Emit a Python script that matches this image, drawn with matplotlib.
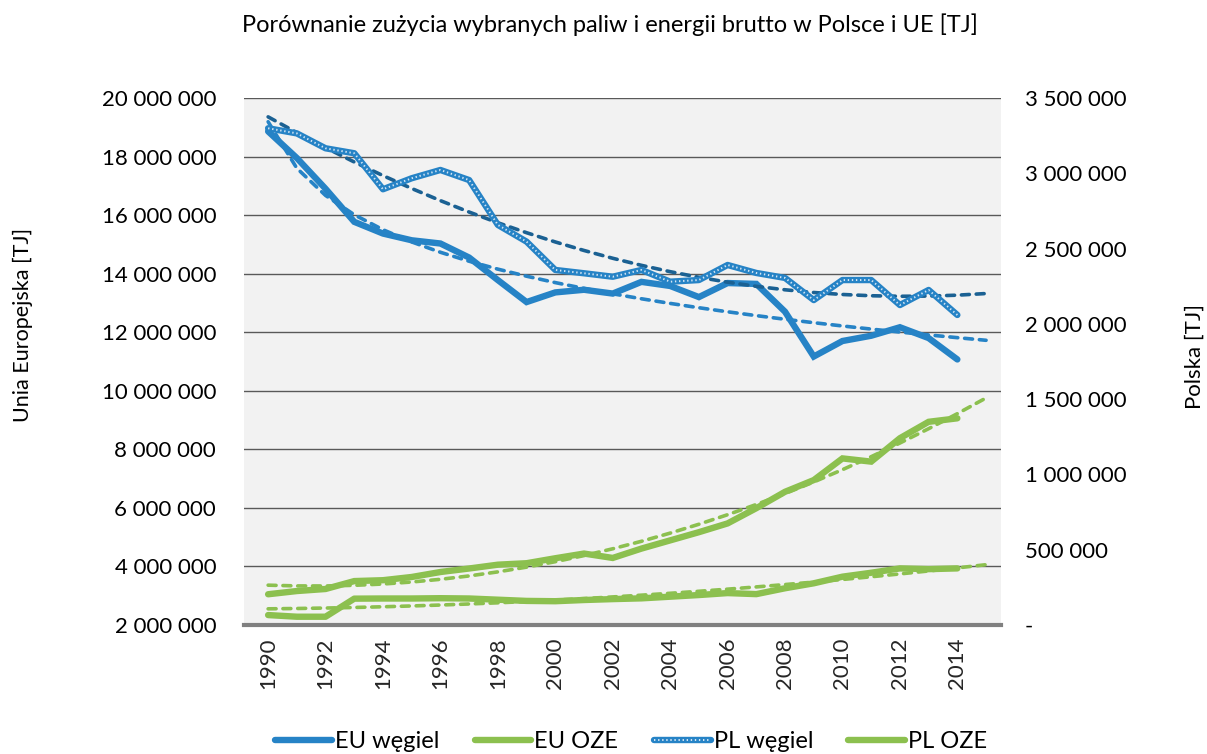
import numpy as np
import matplotlib.pyplot as plt
from matplotlib.ticker import FuncFormatter, MultipleLocator

plt.rcParams['font.family'] = ['Lato', 'DejaVu Sans']

# dane [TJ]
lata = np.arange(1990, 2015)
lata_trend = np.arange(1990, 2016)

eu_wegiel = np.array([18.86, 17.95, 16.90, 15.77, 15.37, 15.14, 15.03, 14.55, 13.78, 13.03,
                      13.36, 13.45, 13.32, 13.72, 13.58, 13.20, 13.68, 13.65, 12.70, 11.17,
                      11.70, 11.88, 12.17, 11.80, 11.07]) * 1e6
eu_oze = np.array([3.05, 3.16, 3.23, 3.50, 3.53, 3.64, 3.81, 3.93, 4.06, 4.11,
                   4.28, 4.44, 4.29, 4.61, 4.89, 5.17, 5.47, 5.99, 6.55, 6.95,
                   7.69, 7.58, 8.38, 8.94, 9.06]) * 1e6
pl_wegiel = np.array([3.299, 3.265, 3.166, 3.133, 2.894, 2.967, 3.022, 2.955, 2.657, 2.546,
                      2.358, 2.336, 2.313, 2.358, 2.280, 2.291, 2.391, 2.338, 2.305, 2.158,
                      2.291, 2.291, 2.125, 2.225, 2.059]) * 1e6
pl_oze = np.array([66, 55, 55, 175, 176, 176, 178, 176, 168, 160,
                   158, 166, 172, 177, 188, 199, 212, 205, 244, 277,
                   321, 347, 376, 371, 376]) * 1e3

niebieski = '#2683c6'
ciemny = '#1b6193'
zielony = '#8cc04f'

# linie trendu (jak w Excelu: x = 1..n)
t = lata - 1989
tt = lata_trend - 1989
a, b = np.polyfit(np.log(t), eu_wegiel, 1)
tr_eu_wegiel = a * np.log(tt) + b
tr_pl_wegiel = np.polyval(np.polyfit(t, pl_wegiel, 2), tt)
tr_eu_oze = np.polyval(np.polyfit(t, eu_oze, 2), tt)
tr_pl_oze = np.polyval(np.polyfit(t, pl_oze, 2), tt)

fig = plt.figure(figsize=(12.07, 7.54), dpi=100)
ax = fig.add_axes([244/1207, 1-625/754, 757/1207, 527/754])
ax2 = ax.twinx()

ax.set_facecolor('#f2f2f2')
ax.set_xlim(1989.16, 2015.52)
ax.set_ylim(2e6, 20e6)
ax2.set_ylim(0, 3.5e6)
ax.yaxis.set_major_locator(MultipleLocator(2e6))
ax2.yaxis.set_major_locator(MultipleLocator(5e5))
ax.set_xticks(np.arange(1990, 2015, 2))
ax.grid(axis='y', color='#595959', lw=1.0)
ax.set_axisbelow(True)

fmt = FuncFormatter(lambda v, p: '-' if v == 0 else f'{int(round(v)):,}'.replace(',', ' '))
ax.yaxis.set_major_formatter(fmt)
ax2.yaxis.set_major_formatter(fmt)

for s in ['top', 'left', 'right']:
    ax.spines[s].set_visible(False)
    ax2.spines[s].set_visible(False)
ax.spines['bottom'].set_color('#808080')
ax.spines['bottom'].set_linewidth(3)
ax2.spines['bottom'].set_visible(False)

ax.tick_params(axis='y', length=0, pad=20, labelsize=16, colors='#000000')
ax2.tick_params(axis='y', length=0, pad=17, labelsize=16)
ax.tick_params(axis='x', length=0, pad=9, labelsize=16, labelrotation=90, colors='#262626')

dash = dict(lw=2.6, ls=(0, (2.2, 1.9)), dash_capstyle='round')

# EU (oś lewa)
ax.plot(lata_trend, tr_eu_wegiel, color=niebieski, **dash)
ax.plot(lata_trend, tr_eu_oze, color=zielony, **dash)
l1, = ax.plot(lata, eu_wegiel, color=niebieski, lw=4.6, solid_capstyle='round', solid_joinstyle='miter')
l2, = ax.plot(lata, eu_oze, color=zielony, lw=4.6, solid_capstyle='round', solid_joinstyle='miter')

# PL (oś prawa)
ax2.plot(lata_trend, tr_pl_wegiel, color=ciemny, **dash)
ax2.plot(lata_trend, tr_pl_oze, color=zielony, **dash)
l3, = ax2.plot(lata, pl_wegiel, color=niebieski, lw=4.6, solid_capstyle='round')
l3b, = ax2.plot(lata, pl_wegiel, color='#d5e6f4', lw=1.4, ls=(0, (0.7, 1.4)))
l4, = ax2.plot(lata, pl_oze, color=zielony, lw=4.6, solid_capstyle='round')

fig.text(0.505, 1-25/754, 'Porównanie zużycia wybranych paliw i energii brutto w Polsce i UE [TJ]',
         ha='center', va='center', fontsize=17)
ax.set_ylabel('Unia Europejska [TJ]', fontsize=15.5)
ax.yaxis.set_label_coords(-0.279, 0.57)
ax2.set_ylabel('Polska [TJ]', fontsize=16)
ax2.yaxis.set_label_coords(1.243, 0.51)

fig.legend([l1, l2, (l3, l3b), l4], ['EU węgiel', 'EU OZE', 'PL węgiel', 'PL OZE'],
           loc='center', bbox_to_anchor=(0.523, 1-742/754), ncol=4, frameon=False,
           fontsize=17, handlelength=2.4, handletextpad=0.13, columnspacing=1.5)

fig.savefig('out.png', dpi=100)
